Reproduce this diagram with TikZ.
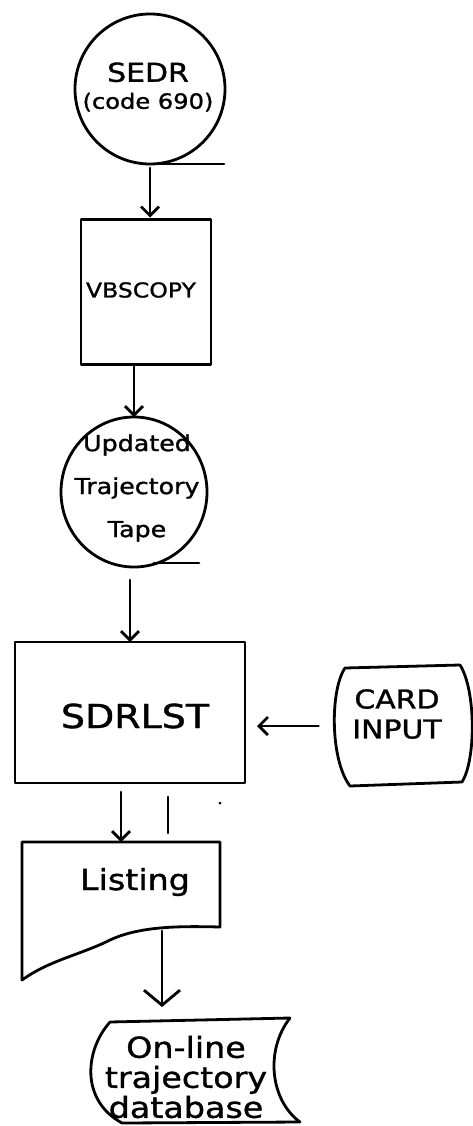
\documentclass[tikz,border=0pt]{standalone}
\usepackage{fontspec}
\newfontfamily\hand[FakeStretch=1.15,FakeBold=1.2]{DejaVu Sans}
\usetikzlibrary{arrows.meta,shapes.geometric,calc}
\begin{document}
\begin{tikzpicture}[x=1pt,y=-1pt, line width=2.8pt, line cap=round, line join=round,
  arr/.style={-{Straight Barb[length=9pt,width=18pt]}},
  bigarr/.style={-{Straight Barb[length=15pt,width=36pt]}},
  txt/.style={font=\hand, align=center, inner sep=0pt},
  frame/.style={inner sep=0pt, outer sep=0pt}]
\useasboundingbox (0,0) rectangle (473,1126);

% SEDR tape
\node[circle, draw, minimum size=150pt, frame] (sedr) at (150,89) {};
\node[txt, font=\hand\fontsize{21}{27}\selectfont] (sedrtext) at (148,87) {{\fontsize{26}{27}\selectfont SEDR}\\(code 690)};
\draw (sedr.south) -- ++(74,0);

% VBSCOPY
\node[draw, minimum width=130pt, minimum height=145pt, frame] (vbs) at (146,292) {};
\node[txt, font=\hand\fontsize{20.5}{23}\selectfont] (vbstext) at (141,290) {VBSCOPY};

% Updated trajectory tape
\node[ellipse, draw, minimum width=146pt, minimum height=150pt, frame] (tape) at (134,492) {};
\node[txt, font=\hand\fontsize{22}{43}\selectfont] (tapetext) at (137,488) {Updated\\Trajectory\\Tape};
\draw (tape.south) ++(20,-4) -- ++(45,0);

% SDRLST
\node[draw, minimum width=230pt, minimum height=141pt, frame] (sdr) at (130,712.5) {};
\node[txt, font=\hand\fontsize{33}{38}\selectfont] (sdrtext) at (135,716) {SDRLST};

% Card input
\node[frame, minimum width=139pt, minimum height=120pt] (card) at (402,726) {};
\draw (345,668) .. controls (330,690) and (330,760) .. (350,786) -- (462,782)
      .. controls (476,760) and (476,690) .. (460,665) -- cycle;
\node[txt, font=\hand\fontsize{26}{30}\selectfont] (cardtext) at (397,714) {CARD\\INPUT};

% Listing
\node[frame, minimum width=198pt, minimum height=138pt] (listing) at (121,911) {};
\draw (22,842) -- (220,842) -- (220,927) .. controls (180,926) and (140,926) .. (110,940)
      .. controls (80,955) and (50,960) .. (22,980) -- cycle;
\node[txt, font=\hand\fontsize{29}{32}\selectfont] (listtext) at (135,882) {Listing};

% On-line trajectory database
\node[frame, minimum width=212pt, minimum height=106pt] (db) at (194,1072) {};
\draw (110,1022) -- (290,1018) .. controls (265,1050) and (270,1100) .. (300,1122)
      -- (122,1123) .. controls (80,1100) and (85,1050) .. (110,1022);
\node[txt, font=\hand\fontsize{29}{30}\selectfont] (dbtext) at (186,1077) {On-line\\trajectory\\database};

% connectors
\draw[arr, shorten <=4pt, shorten >=2pt] (sedr.south) -- (sedr.south |- vbs.north);
\draw[arr] (vbs.south -| tape.north) -- (tape.north);
\draw[arr, shorten <=13pt] (tape.south -| sdr.north) -- (sdr.north);
\draw[arr, shorten <=14pt, shorten >=12pt] (card.west) -- (card.west -| sdr.east);
\draw[arr, shorten <=9pt] (sdr.south -| listing.north) -- (listing.north);
\coordinate (stray) at (168,797);
\draw (stray) -- ++(0,36);
\fill (220,803) circle (1.5pt);
\coordinate (lbot) at (162,931);
\draw[bigarr, shorten >=12pt] (lbot) -- (lbot |- db.north);
\end{tikzpicture}
\end{document}
